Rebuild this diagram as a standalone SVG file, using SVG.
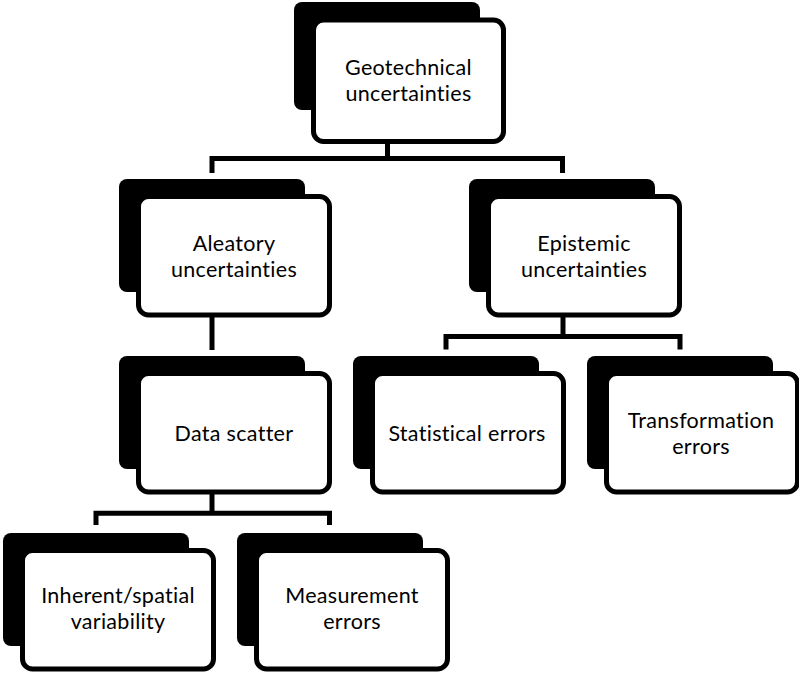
<svg xmlns="http://www.w3.org/2000/svg" width="799" height="674" viewBox="0 0 799 674">
<style>
.back{fill:#000}
.front{fill:#fff;stroke:#000;stroke-width:5}
.conn{fill:none;stroke:#000;stroke-width:5;stroke-linejoin:miter}
text{font-family:Lato,"Liberation Sans",sans-serif;font-size:21.5px;letter-spacing:0.3px;font-variant-ligatures:none;fill:#000;text-anchor:middle}
</style>
<rect width="799" height="674" fill="#fff"/>
<g id="connectors">
<path class="conn" d="M387.5,143 V158.5"/>
<path class="conn" d="M212,173 V158.5 H562.5 V173"/>
<path class="conn" d="M212,316 V350"/>
<path class="conn" d="M563,315 V336.5"/>
<path class="conn" d="M446,349.5 V336.5 H680 V349.5"/>
<path class="conn" d="M212,493 V513.3"/>
<path class="conn" d="M96,525 V513.3 H329.5 V525"/>
</g>
<g id="node-geotechnical">
<rect class="back" x="294" y="2" width="186" height="108" rx="8"/>
<rect class="front" x="313.5" y="20" width="190" height="121.5" rx="10"/>
<text x="408.5" y="74.5">Geotechnical</text>
<text x="408.5" y="100.5">uncertainties</text>
</g>
<g id="node-aleatory">
<rect class="back" x="119" y="179" width="186" height="113" rx="8"/>
<rect class="front" x="138.5" y="196.5" width="191" height="118.5" rx="10"/>
<text x="234" y="251">Aleatory</text>
<text x="234" y="277">uncertainties</text>
</g>
<g id="node-epistemic">
<rect class="back" x="469" y="179" width="186" height="113" rx="8"/>
<rect class="front" x="488.5" y="196.5" width="191" height="118.5" rx="10"/>
<text x="584" y="251">Epistemic</text>
<text x="584" y="277">uncertainties</text>
</g>
<g id="node-data-scatter">
<rect class="back" x="119" y="356" width="186" height="113" rx="8"/>
<rect class="front" x="138.5" y="373.5" width="191" height="118.5" rx="10"/>
<text x="234" y="441">Data scatter</text>
</g>
<g id="node-statistical">
<rect class="back" x="353" y="356" width="186" height="113" rx="8"/>
<rect class="front" x="372.5" y="373.5" width="191" height="118.5" rx="10"/>
<text x="467" y="440.5">Statistical errors</text>
</g>
<g id="node-transformation">
<rect class="back" x="587" y="356" width="186" height="113" rx="8"/>
<rect class="front" x="606.5" y="373.5" width="191" height="118.5" rx="10"/>
<text x="701" y="427.5">Transformation</text>
<text x="701" y="453.5">errors</text>
</g>
<g id="node-inherent">
<rect class="back" x="3" y="533" width="186" height="113" rx="8"/>
<rect class="front" x="22.5" y="550.5" width="191" height="118.5" rx="10"/>
<text x="118" y="603">Inherent/spatial</text>
<text x="118" y="629">variability</text>
</g>
<g id="node-measurement">
<rect class="back" x="237" y="533" width="186" height="113" rx="8"/>
<rect class="front" x="256.5" y="550.5" width="191" height="118.5" rx="10"/>
<text x="352" y="603">Measurement</text>
<text x="352" y="629">errors</text>
</g>
</svg>
